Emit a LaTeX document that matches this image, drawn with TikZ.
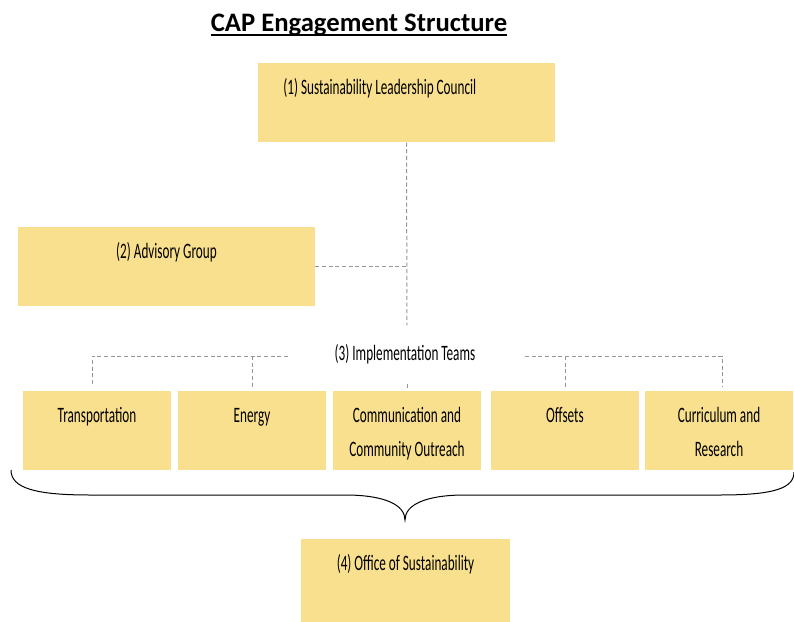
\documentclass[tikz,border=0pt]{standalone}
\usepackage{fontspec}
\setmainfont{Carlito}
\newfontfamily\narrowfont[FakeStretch=0.6]{Carlito}
\usetikzlibrary{positioning}

\definecolor{boxgold}{RGB}{249,224,142}
\definecolor{linkgray}{RGB}{150,150,150}

\tikzset{
    box/.style={fill=boxgold, inner sep=0pt, minimum width=111pt, minimum height=59.6pt},
    lbl/.style={font=\narrowfont\fontsize{16.5}{25.5}\selectfont, inner sep=0pt, align=center, anchor=base},
    link/.style={draw=linkgray, line width=0.75pt, dash pattern=on 3pt off 2pt}
}

\begin{document}
\begin{tikzpicture}[x=0.75pt, y=-0.75pt]
    \useasboundingbox (0,0) rectangle (794,622);

    % Title
    \node[font=\bfseries\fontsize{20}{24}\selectfont, inner sep=0pt, anchor=base] (title) at (359,31.5) {CAP Engagement Structure};
    \draw[line width=1.5pt] ([yshift=-2.8pt]title.base west) -- ([yshift=-2.8pt]title.base east);

    % Council and advisory group
    \node[box, minimum width=222.75pt] (slc) at (406.5,102.5) {};
    \node[lbl] at ([xshift=-20pt, yshift=-24pt]slc.north) {(1) Sustainability Leadership Council};

    \node[box, minimum width=222.75pt] (adv) at (166.5,266.5) {};
    \node[lbl] at ([yshift=-24pt]adv.north) {(2) Advisory Group};

    % Implementation teams
    \node[lbl] (teams) at (405,360) {(3) Implementation Teams};

    \node[box] (trans) at (97,430.5) {};
    \node[box] (energy) at (252,430.5) {};
    \node[box] (comm) at (407,430.5) {};
    \node[box] (offs) at (565,430.5) {};
    \node[box] (curr) at (719,430.5) {};

    % two-line labels sit on their last baseline
    \node[lbl] at ([yshift=-24pt]trans.north) {Transportation};
    \node[lbl] at ([yshift=-24pt]energy.north) {Energy};
    \node[lbl] at ([yshift=-49.5pt]comm.north) {Communication and\\Community Outreach};
    \node[lbl] at ([yshift=-24pt]offs.north) {Offsets};
    \node[lbl] at ([yshift=-49.5pt]curr.north) {Curriculum and\\Research};

    % Dashed links
    \coordinate (trunk) at (407,325);
    \coordinate (lspan) at (288,356);
    \coordinate (rspan) at (525,356);
    \draw[link] (slc.south) -- (trunk);
    \draw[link] (adv.east) -- (adv.east -| slc.south);
    \draw[link] (lspan) -| ([xshift=-3.75pt, yshift=3pt]trans.north);
    \draw[link] (lspan -| energy.north) -- ([yshift=3pt]energy.north);
    \draw[link] (rspan) -| ([xshift=2.25pt, yshift=3pt]curr.north);
    \draw[link] (rspan -| offs.north) -- ([yshift=3pt]offs.north);
    \draw[link] ([yshift=2pt]comm.north) -- ([yshift=6pt]comm.north);

    % Brace over the teams
    \draw[line width=0.75pt] (11,470) .. controls (11,488) and (35,495) .. (90,495) -- (345,495)
        .. controls (385,495) and (405,505) .. (405,520)
        .. controls (405,505) and (425,495) .. (465,495) -- (720,495)
        .. controls (775,495) and (794,488) .. (794,472);

    % Office of Sustainability
    \node[box, minimum width=156.75pt, minimum height=62.25pt] (oos) at (405.5,580.5) {};
    \node[lbl] at ([yshift=-24pt]oos.north) {(4) Office of Sustainability};
\end{tikzpicture}
\end{document}
